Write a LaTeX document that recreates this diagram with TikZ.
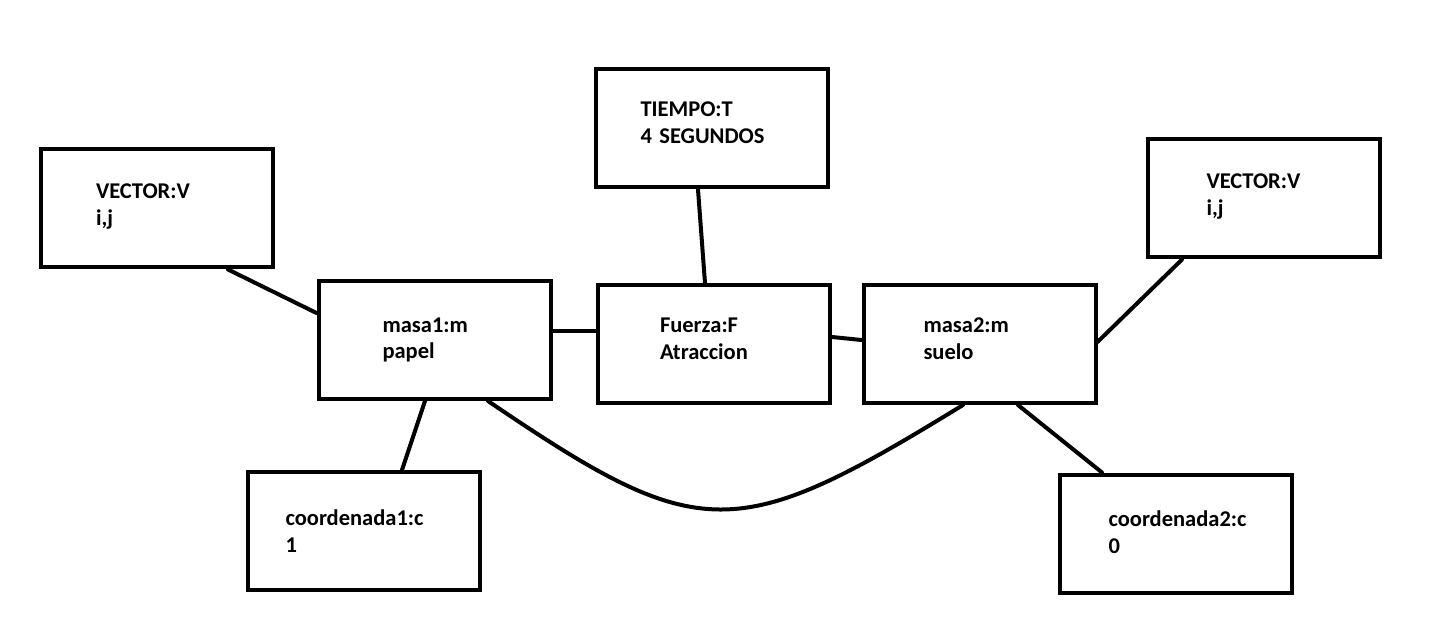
\documentclass[tikz,border=0pt]{standalone}
\usepackage{fontspec}
\setmainfont{Carlito}
\usepackage{tikz}
\usetikzlibrary{positioning}

\begin{document}
\begin{tikzpicture}[x=1pt, y=-1pt,
  caja/.style={draw, rectangle, line width=4pt, minimum width=232pt, minimum height=118pt,
    inner ysep=0pt, inner xsep=#1pt, text width={(232-2*#1)*1pt},
    text height=49pt, text depth=69pt, align=left,
    font=\bfseries\fontsize{22.5}{27}\selectfont},
  enlace/.style={line width=4pt, line cap=round}]
  \useasboundingbox (0,0) rectangle (1435,636);

  \node[caja=55] (vector1) at (157,208.5) {VECTOR:V\\i,j};
  \node[caja=45, text height=47pt, text depth=71pt] (tiempo) at (711.5,128.5) {TIEMPO:T\\4 SEGUNDOS};
  \node[caja=59] (vector2) at (1263.5,198.5) {VECTOR:V\\i,j};
  \node[caja=64, text height=51pt, text depth=67pt] (masa1) at (434.5,340) {masa1:m\\papel};
  \node[caja=62, text height=48pt, text depth=70pt] (fuerza) at (714,344) {Fuerza:F\\Atraccion};
  \node[caja=60, text height=48pt, text depth=70pt] (masa2) at (979.5,344) {masa2:m\\suelo};
  \node[caja=38, text height=53pt, text depth=65pt] (coord1) at (363.5,531) {coordenada1:c\\1};
  \node[caja=49, text height=52pt, text depth=66pt] (coord2) at (1175.5,533.5) {coordenada2:c\\0};

  \draw[enlace] ([xshift=71pt]vector1.south) -- ([yshift=27pt]masa1.west);
  \draw[enlace] ([yshift=9pt]masa1.east) -- ([yshift=13pt]fuerza.west);
  \draw[enlace] ([yshift=7pt]fuerza.east) -- ([yshift=4pt]masa2.west);
  \draw[enlace] ([xshift=-13.5pt]tiempo.south) -- ([xshift=-9pt]fuerza.north);
  \draw[enlace] ([yshift=2pt]masa2.east) -- ([xshift=-81.5pt]vector2.south);
  \draw[enlace] ([xshift=-9.5pt]masa1.south) -- ([xshift=38.5pt]coord1.north);
  \draw[enlace] ([xshift=38.5pt]masa2.south) -- ([xshift=-73.5pt]coord2.north);
  \draw[enlace] ([xshift=53.5pt]masa1.south) .. controls (700,545) and (735,545) .. ([xshift=-16.5pt]masa2.south);
\end{tikzpicture}
\end{document}
